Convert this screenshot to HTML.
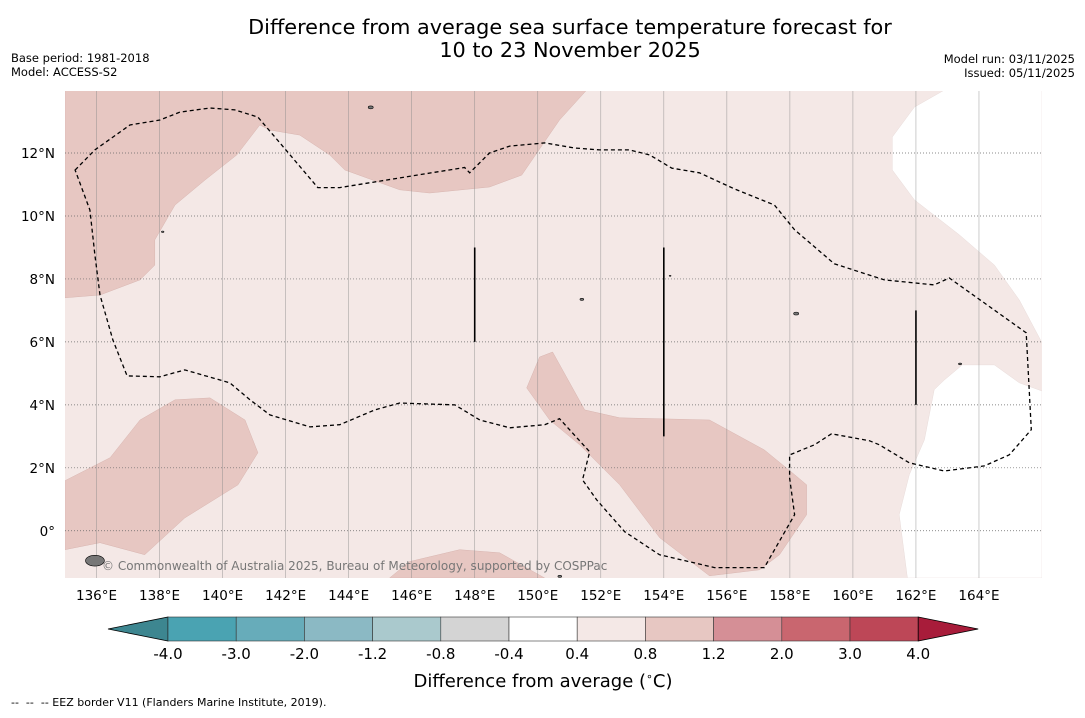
<!DOCTYPE html>
<html><head><meta charset="utf-8">
<style>
html,body{margin:0;padding:0;background:#fff;}
body{width:1085px;height:713px;overflow:hidden;font-family:"Liberation Sans","DejaVu Sans",sans-serif;}
svg text{font-family:"DejaVu Sans","Liberation Sans",sans-serif;}
</style></head>
<body>
<svg id="chart" width="1085" height="713" xmlns="http://www.w3.org/2000/svg">
  <text x="570" y="34" font-size="20.8" text-anchor="middle" fill="#000">Difference from average sea surface temperature forecast for</text>
  <text x="570" y="57" font-size="20.8" text-anchor="middle" fill="#000">10 to 23 November 2025</text>
  <text x="11" y="62" font-size="11.5">Base period: 1981-2018</text>
  <text x="11" y="76" font-size="11.5">Model: ACCESS-S2</text>
  <text x="1075" y="63" font-size="11.5" text-anchor="end">Model run: 03/11/2025</text>
  <text x="1075" y="77" font-size="11.5" text-anchor="end">Issued: 05/11/2025</text>
  <g id="map"></g>
  <g id="cbar"></g>
  <text x="543" y="687" font-size="18" text-anchor="middle">Difference from average (<tspan font-size="11" dy="-7">∘</tspan><tspan dy="7">C)</tspan></text>
  <text x="11" y="706" font-size="11" xml:space="preserve" style="white-space:pre">--  --  -- EEZ border V11 (Flanders Marine Institute, 2019).</text>
</svg>
<script>
// ---- data ----
const lonTicks = [136,138,140,142,144,146,148,150,152,154,156,158,160,162,164];
const latTicks = [0,2,4,6,8,10,12];
const latLabels = ["0°","2°N","4°N","6°N","8°N","10°N","12°N"];
const anomalyLevels = ["-4.0","-3.0","-2.0","-1.2","-0.8","-0.4","0.4","0.8","1.2","2.0","3.0","4.0"];
const levelColors = ["#4aa3b2","#67acba","#8bb9c4","#aac9cd","#d4d4d4","#ffffff","#f4e8e6","#e7c7c2","#d58f96","#c9666f","#bd4757"];
const lowExtendColor = "#3d8690";
const highExtendColor = "#a81c3a";
// contour region (0.8–1.2 class) polygons as [lon,lat]
const warmRegionNorth = [[135,14],[151.55,14],[150.69,13.05],[149.49,11.3],[148.47,10.92],[146.57,10.73],[145.62,10.83],[143.88,11.46],[143.4,11.94],[142.45,12.57],[141.5,12.73],[141.18,12.89],[140.45,11.94],[139.44,11.14],[138.49,10.35],[137.85,9.24],[137.85,8.44],[137.38,7.97],[136.11,7.49],[135,7.4]];
const warmRegionWest = [[135,1.59],[136.43,2.32],[137.38,3.52],[138.49,4.16],[139.6,4.22],[140.71,3.52],[141.12,2.48],[140.49,1.46],[138.8,0.41],[137.53,-0.76],[136.11,-0.38],[135,-0.6]];
const warmRegionCentral = [[149.65,4.54],[150.06,5.52],[150.47,5.68],[151.49,3.84],[152.6,3.59],[155.45,3.52],[157.19,2.57],[158.15,1.78],[158.53,1.46],[158.53,0.51],[157.67,-0.76],[157.04,-1.24],[155.45,-1.43],[153.87,-0.22],[152.6,1.46],[151.33,2.73],[150.38,3.52]];
const warmRegionSouth = [[145.3,-1.5],[145.93,-0.98],[147.52,-0.6],[148.79,-0.7],[150.22,-1.5]];
// near-zero (white) regions
const neutralRegionNE = [[162.9,14],[166,14],[166,5.97],[165.28,7.33],[164.49,8.44],[163.38,9.4],[161.95,10.51],[161.25,11.46],[161.25,12.51],[161.95,13.46]];
const neutralRegionSE = [[166,4.44],[165.28,4.7],[164.49,5.27],[163.47,5.27],[162.9,4.79],[162.58,4.48],[162.27,2.89],[161.79,1.78],[161.47,0.51],[161.73,-1.5],[166,-1.5]];
// EEZ border
const eezBorder = [[135.32,11.46],[135.95,12.1],[137.06,12.89],[138.01,13.05],[138.65,13.3],[139.6,13.43],[140.39,13.37],[141.12,13.14],[141.82,12.32],[143.02,10.9],[143.72,10.9],[145.62,11.21],[147.68,11.54],[147.84,11.37],[148.47,12.0],[149.11,12.22],[150.22,12.32],[151.17,12.16],[151.96,12.1],[152.91,12.1],[153.55,11.94],[154.25,11.52],[155.13,11.37],[156.24,10.86],[157.51,10.35],[158.15,9.56],[159.41,8.48],[161.0,7.97],[162.58,7.81],[163.06,8.03],[164.17,7.24],[165.5,6.29],[165.66,3.21],[164.96,2.41],[164.17,2.06],[162.9,1.9],[161.79,2.16],[160.84,2.73],[160.52,2.86],[159.32,3.08],[158.78,2.73],[157.99,2.41],[157.99,1.68],[158.15,0.51],[157.19,-1.17],[155.61,-1.17],[153.86,-0.76],[152.76,-0.03],[151.87,0.98],[151.42,1.62],[151.65,2.51],[150.69,3.56],[150.22,3.37],[149.11,3.27],[148.16,3.52],[147.37,4.0],[145.62,4.06],[144.83,3.84],[143.72,3.37],[142.77,3.3],[141.5,3.68],[140.87,4.16],[140.23,4.7],[138.8,5.11],[138.01,4.89],[136.97,4.92],[136.52,6.06],[136.11,7.49],[135.95,8.76],[135.79,10.19]];
// EEZ meridian segments [lon, latFrom, latTo]
const eezMeridians = [[148,9,6],[154,9,3],[162,7,4]];
// islands [lon, lat, rx(deg)]
const islands = [[135.95,-0.95,0.3],[144.7,13.45,0.08],[158.2,6.9,0.08],[138.1,9.5,0.04],[151.4,7.35,0.06],[163.4,5.3,0.05],[154.2,8.1,0.03],[150.7,-1.45,0.06]];

// ---- axes ----
const X0=65, X1=1042, Y0=91, Y1=578;
const LON0=135, LON1=166, LAT0=-1.5, LAT1=13.97;
const xs = lon => X0 + (lon-LON0)/(LON1-LON0)*(X1-X0);
const ys = lat => Y1 - (lat-LAT0)/(LAT1-LAT0)*(Y1-Y0);
const NS="http://www.w3.org/2000/svg";
const map=document.getElementById('map');
function mk(tag,attrs,parent){const e=document.createElementNS(NS,tag);for(const k in attrs)e.setAttribute(k,attrs[k]);parent.appendChild(e);return e;}
const pts = arr => arr.map(p=>xs(p[0]).toFixed(1)+','+ys(p[1]).toFixed(1)).join(' ');

const cp=mk('clipPath',{id:'clipmap'},map);
mk('rect',{x:X0,y:Y0,width:X1-X0,height:Y1-Y0},cp);
const g=mk('g',{'clip-path':'url(#clipmap)'},map);
const bg=mk('rect',{x:X0,y:Y0,width:X1-X0,height:Y1-Y0,fill:levelColors[6]},g);


[[warmRegionNorth,'warm-region-north'],[warmRegionWest,'warm-region-west'],[warmRegionCentral,'warm-region-central'],[warmRegionSouth,'warm-region-south']].forEach(([r,n])=>{
  const p=mk('polygon',{points:pts(r),fill:levelColors[7],stroke:'#d8b5b0','stroke-width':0.5},g);
  
  
});
[[neutralRegionNE,'neutral-region-ne'],[neutralRegionSE,'neutral-region-se']].forEach(([r,n])=>{
  const p=mk('polygon',{points:pts(r),fill:levelColors[5],stroke:'#e8dcda','stroke-width':0.5},g);
  
  
});
// grid
lonTicks.forEach(l=>{
  const ln=mk('line',{x1:xs(l),x2:xs(l),y1:Y0,y2:Y1,stroke:'#888','stroke-width':0.6,'stroke-opacity':0.7},g);
  
  
});
latTicks.forEach(l=>{
  const ln=mk('line',{x1:X0,x2:X1,y1:ys(l),y2:ys(l),stroke:'#666','stroke-width':0.7,'stroke-dasharray':'1,2'},g);
  
  
});
islands.forEach(i=>{
  const e=mk('ellipse',{cx:xs(i[0]),cy:ys(i[1]),rx:i[2]*31.5,ry:i[2]*18,fill:'#777',stroke:'#000','stroke-width':0.6},g);
  
  
});
const eez=mk('polygon',{points:pts(eezBorder),fill:'none',stroke:'#000','stroke-width':1.3,'stroke-dasharray':'4,3'},g);


eezMeridians.forEach(m=>{
  const ln=mk('line',{x1:xs(m[0]),x2:xs(m[0]),y1:ys(m[1]),y2:ys(m[2]),stroke:'#000','stroke-width':1.6},g);
  
  
});
const wm=mk('text',{x:102,y:570,'font-size':12,fill:'#777'},g);
wm.textContent='© Commonwealth of Australia 2025, Bureau of Meteorology, supported by COSPPac';


// tick labels
lonTicks.forEach(l=>{
  const t=mk('text',{x:xs(l),y:600,'font-size':13.5,'text-anchor':'middle'},map);
  t.textContent=l+'°E';
  
  
});
latTicks.forEach((l,i)=>{
  const t=mk('text',{x:55,y:ys(l)+5,'font-size':13.5,'text-anchor':'end'},map);
  t.textContent=latLabels[i];
  
  
});
// colorbar
const cb=document.getElementById('cbar');
const CB0=168, CBW=68.2, CBY=617, CBH=24;
const triL=mk('polygon',{points:`108,${CBY+CBH/2} ${CB0},${CBY} ${CB0},${CBY+CBH}`,fill:lowExtendColor,stroke:'#000','stroke-width':0.8},cb);


levelColors.forEach((c,i)=>{
  const r=mk('rect',{x:CB0+i*CBW,y:CBY,width:CBW,height:CBH,fill:c,stroke:'#333','stroke-width':0.6},cb);
  
  
});
const endX=CB0+levelColors.length*CBW;
const triR=mk('polygon',{points:`${endX},${CBY} ${endX+60},${CBY+CBH/2} ${endX},${CBY+CBH}`,fill:highExtendColor,stroke:'#000','stroke-width':0.8},cb);


anomalyLevels.forEach((v,i)=>{
  const t=mk('text',{x:CB0+i*CBW,y:659,'font-size':15,'text-anchor':'middle'},cb);
  t.textContent=v;
  
  
});
</script>
</body></html>
